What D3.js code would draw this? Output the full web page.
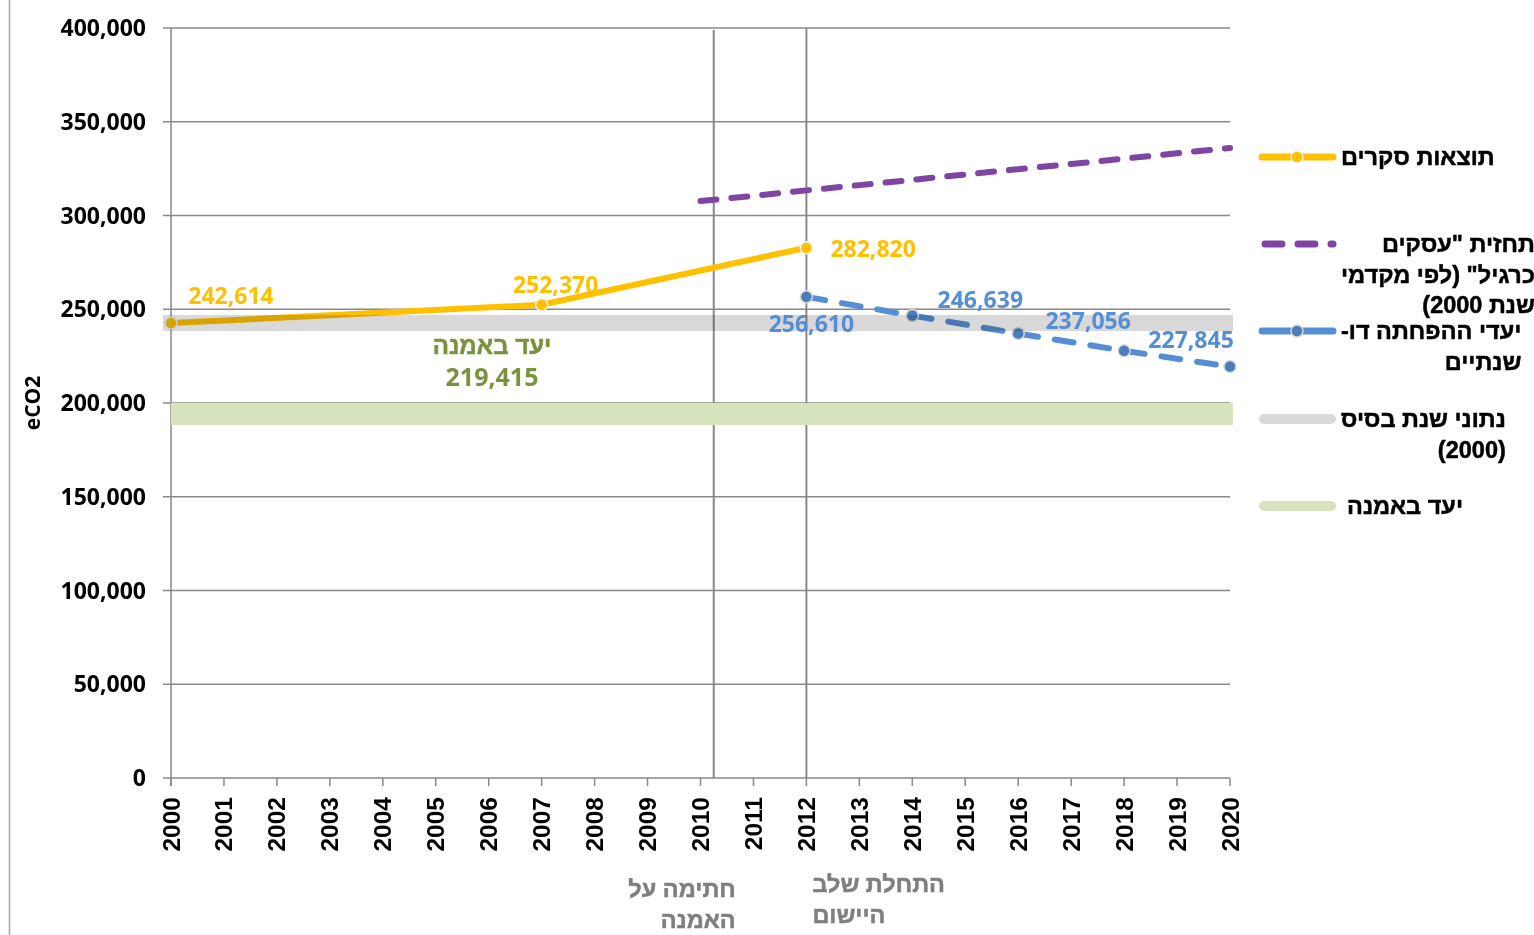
<!doctype html>
<html>
<head>
<meta charset="utf-8">
<style>
  body { margin: 0; background: #fff; }
  svg { display: block; }
  .num { font-family: "Open Sans", sans-serif; font-weight: bold; }
  .arial { font-family: "Liberation Sans", Arial, sans-serif; font-weight: bold; }
  .heb { font-family: "Liberation Sans", Arial, sans-serif; font-weight: bold; stroke-width: 0.5px; }
</style>
<script src="https://d3js.org/d3.v7.min.js"></script>
</head>
<body>
<svg width="1534" height="935" id="chart"></svg>
<script>
    // ---- data ----
    var yearTicks = [2000, 2001, 2002, 2003, 2004, 2005, 2006, 2007, 2008, 2009, 2010,
                     2011, 2012, 2013, 2014, 2015, 2016, 2017, 2018, 2019, 2020];
    var valueTicks = [0, 50000, 100000, 150000, 200000, 250000, 300000, 350000, 400000];

    // survey results
    var surveyYears = [2000, 2007, 2012];
    var surveyValues = [242614, 252370, 282820];

    // business as usual projection
    var bauYears = [2010, 2011, 2012, 2013, 2014, 2015, 2016, 2017, 2018, 2019, 2020];
    var bauValues = [307700, 310500, 313400, 316200, 319000, 321900, 324700, 327500, 330300, 333200, 336000];

    // biennial reduction targets
    var targetYears = [2012, 2014, 2016, 2018, 2020];
    var targetValues = [256610, 246639, 237056, 227845, 219415];

    var baseYearValue = 242614;   // 2000 base year band
    var treatyValue = 194091;     // treaty target band
    var treatyLabel = ["יעד באמנה", "219,415"];

    var milestoneYears = [2010.25, 2012];
    var milestoneLabels = [["חתימה על", "האמנה"], ["התחלת שלב", "היישום"]];

    var legendLabels = [
        ["תוצאות סקרים"],
        ["תחזית \"עסקים", "כרגיל\" (לפי מקדמי", "שנת 2000)"],
        ["יעדי ההפחתה דו-", "שנתיים"],
        ["נתוני שנת בסיס", "(2000)"],
        ["יעד באמנה"]
    ];

    // ---- colours ----
    var yellow = "#FFC000", purple = "#7E45A3", blue = "#558ED5", blueDot = "#4A7EBB",
        grayBand = "#D9D9D9", greenBand = "#D7E4BD", gridColor = "#898989";

    var svg = d3.select("#chart");
    var x = d3.scaleLinear().domain([2000, 2020]).range([171, 1230]);
    var y = d3.scaleLinear().domain([0, 400000]).range([778, 28]);

    // frame line on the left
    svg.append("line").attr("x1", 9.5).attr("x2", 9.5).attr("y1", 0).attr("y2", 935)
       .attr("stroke", "#A6A6A6").attr("stroke-width", 1.5);

    // gridlines
    svg.append("g").selectAll("line").data(valueTicks).enter().append("line")
       .attr("x1", x(2000) - 8).attr("x2", x(2020))
       .attr("y1", function(d) { return y(d); }).attr("y2", function(d) { return y(d); })
       .attr("stroke", gridColor).attr("stroke-width", 1.5);

    // y axis line
    svg.append("line").attr("x1", x(2000)).attr("x2", x(2000)).attr("y1", y(400000)).attr("y2", y(0) + 8)
       .attr("stroke", gridColor).attr("stroke-width", 1.5);

    // x axis ticks
    svg.append("g").selectAll("line").data(yearTicks).enter().append("line")
       .attr("x1", function(d) { return x(d); }).attr("x2", function(d) { return x(d); })
       .attr("y1", y(0)).attr("y2", y(0) + 8)
       .attr("stroke", gridColor).attr("stroke-width", 1.5);

    // y tick labels
    svg.append("g").selectAll("text").data(valueTicks).enter().append("text")
       .attr("class", "num")
       .attr("x", 146).attr("y", function(d) { return y(d) + 8; })
       .attr("text-anchor", "end").attr("font-size", "23px").attr("fill", "#000")
       .text(function(d) { return d3.format(",")(d); });

    // x tick labels (rotated)
    svg.append("g").selectAll("text").data(yearTicks).enter().append("text")
       .attr("class", "arial")
       .attr("transform", function(d) { return "translate(" + (x(d) + 8.5) + ",797) rotate(-90)"; })
       .attr("text-anchor", "end").attr("font-size", "24.5px").attr("fill", "#000")
       .text(function(d) { return d; });

    // y axis title
    svg.append("text").attr("class", "num")
       .attr("transform", "translate(40," + y(200000) + ") rotate(-90)")
       .attr("text-anchor", "middle").attr("font-size", "21px")
       .text("eCO2");

    // milestone lines
    svg.append("g").selectAll("line").data(milestoneYears).enter().append("line")
       .attr("x1", function(d) { return x(d); }).attr("x2", function(d) { return x(d); })
       .attr("y1", function(d, i) { return i == 0 ? y(399000) : y(400000); }).attr("y2", y(0))
       .attr("stroke", gridColor).attr("stroke-width", 2);

    // treaty target band
    svg.append("line").attr("x1", x(2000)).attr("x2", x(2020) + 3)
       .attr("y1", y(treatyValue)).attr("y2", y(treatyValue))
       .attr("stroke", greenBand).attr("stroke-width", 22);

    // series
    var line = d3.line().x(function(d) { return x(d[0]); }).y(function(d) { return y(d[1]); });

    svg.append("path").datum(d3.zip(bauYears, bauValues)).attr("d", line)
       .attr("fill", "none").attr("stroke", purple).attr("stroke-width", 6)
       .attr("stroke-linecap", "round").attr("stroke-dasharray", "16,15");

    svg.append("path").datum(d3.zip(surveyYears, surveyValues)).attr("d", line)
       .attr("fill", "none").attr("stroke", yellow).attr("stroke-width", 6)
       .attr("stroke-linejoin", "round");

    svg.append("path").datum(d3.zip(targetYears, targetValues)).attr("d", line)
       .attr("fill", "none").attr("stroke", blue).attr("stroke-width", 6)
       .attr("stroke-linecap", "round").attr("stroke-dasharray", "19,17");

    svg.append("g").selectAll("circle").data(d3.zip(surveyYears, surveyValues)).enter().append("circle")
       .attr("cx", function(d) { return x(d[0]); }).attr("cy", function(d) { return y(d[1]); })
       .attr("r", 6).attr("fill", yellow).attr("stroke", "#F2F2F2").attr("stroke-width", 1.5);

    svg.append("g").selectAll("circle").data(d3.zip(targetYears, targetValues)).enter().append("circle")
       .attr("cx", function(d) { return x(d[0]); }).attr("cy", function(d) { return y(d[1]); })
       .attr("r", 6).attr("fill", blueDot).attr("stroke", "#D9D9D9").attr("stroke-width", 1.5);

    // base year band, drawn over the lines
    svg.append("line").attr("x1", x(2000) - 8).attr("x2", x(2020) + 3)
       .attr("y1", y(baseYearValue)).attr("y2", y(baseYearValue))
       .attr("stroke", grayBand).attr("stroke-width", 16)
       .style("mix-blend-mode", "multiply");

    // data labels
    var fmt = d3.format(",");
    var surveyLabelPos = [[60, -19, "middle"], [14, -12, "middle"], [24, 9, "start"]];
    svg.append("g").selectAll("text").data(d3.zip(surveyYears, surveyValues)).enter().append("text")
       .attr("class", "num").attr("font-size", "23px").attr("fill", yellow)
       .attr("x", function(d, i) { return x(d[0]) + surveyLabelPos[i][0]; })
       .attr("y", function(d, i) { return y(d[1]) + surveyLabelPos[i][1]; })
       .attr("text-anchor", function(d, i) { return surveyLabelPos[i][2]; })
       .text(function(d) { return fmt(d[1]); });

    var targetLabelPos = [[5, 35], [68, -8], [70, -5], [67, -3]];
    svg.append("g").selectAll("text").data(d3.zip(targetYears, targetValues).slice(0, 4)).enter().append("text")
       .attr("class", "num").attr("font-size", "23px").attr("fill", blue)
       .attr("x", function(d, i) { return x(d[0]) + targetLabelPos[i][0]; })
       .attr("y", function(d, i) { return y(d[1]) + targetLabelPos[i][1]; })
       .attr("text-anchor", "middle")
       .text(function(d) { return fmt(d[1]); });

    // treaty label
    svg.append("text").attr("class", "heb").attr("direction", "rtl")
       .attr("x", 492).attr("y", 354).attr("text-anchor", "middle")
       .attr("font-size", "24px").attr("fill", "#77933C").attr("stroke", "#77933C")
       .text(treatyLabel[0]);
    svg.append("text").attr("class", "num")
       .attr("x", 492).attr("y", 386).attr("text-anchor", "middle")
       .attr("font-size", "25px").attr("fill", "#77933C").text(treatyLabel[1]);

    // block of rtl lines; align "right" keeps lines flush right, "left" flush left
    function textBlock(g, lines, edge, align, top, step, size, color) {
        var texts = g.selectAll("text").data(lines).enter().append("text")
            .attr("class", "heb").attr("direction", "rtl").attr("unicode-bidi", "embed")
            .attr("font-size", size).attr("fill", color).attr("stroke", color)
            .attr("text-anchor", align == "left" ? "end" : "start")
            .attr("y", function(d, i) { return top + i * step; })
            .text(function(d) { return d; });
        if (align == "block") {
            // left edge given, lines flush right within the widest one
            var w = d3.max(texts.nodes(), function(n) { return n.getComputedTextLength(); });
            texts.attr("x", edge + w);
        } else {
            texts.attr("x", edge);
        }
    }

    // milestone labels
    textBlock(svg.append("g"), milestoneLabels[0], x(milestoneYears[0]) + 22, "right", 897, 31, "23.5px", "#7F7F7F");
    textBlock(svg.append("g"), milestoneLabels[1], x(milestoneYears[1]) + 6, "left", 892, 31, "23.5px", "#7F7F7F");

    // legend
    var legendY = [157, 244, 331, 419, 506];
    var legend = svg.append("g");
    legendLabels.forEach(function(lines, i) {
        var g = legend.append("g");
        var ly = legendY[i];
        if (i == 0 || i == 2) {
            g.append("line").attr("x1", 1262).attr("x2", 1333).attr("y1", ly).attr("y2", ly)
             .attr("stroke", i == 0 ? yellow : blue).attr("stroke-width", 7).attr("stroke-linecap", "round");
            g.append("circle").attr("cx", 1297).attr("cy", ly).attr("r", 6)
             .attr("fill", i == 0 ? yellow : blueDot).attr("stroke", i == 0 ? "#F2F2F2" : "#D9D9D9").attr("stroke-width", 1.5);
        } else if (i == 1) {
            g.append("line").attr("x1", 1265).attr("x2", 1333).attr("y1", ly).attr("y2", ly)
             .attr("stroke", purple).attr("stroke-width", 7).attr("stroke-linecap", "round")
             .attr("stroke-dasharray", "17,16");
        } else {
            g.append("line").attr("x1", 1264).attr("x2", 1331).attr("y1", ly).attr("y2", ly)
             .attr("stroke", i == 3 ? grayBand : greenBand).attr("stroke-width", 10).attr("stroke-linecap", "round");
        }
        textBlock(g, lines, i == 4 ? 1347 : 1341, "block", ly + 8, 30.5, "23.5px", "#000");
    });
</script>
</body>
</html>
